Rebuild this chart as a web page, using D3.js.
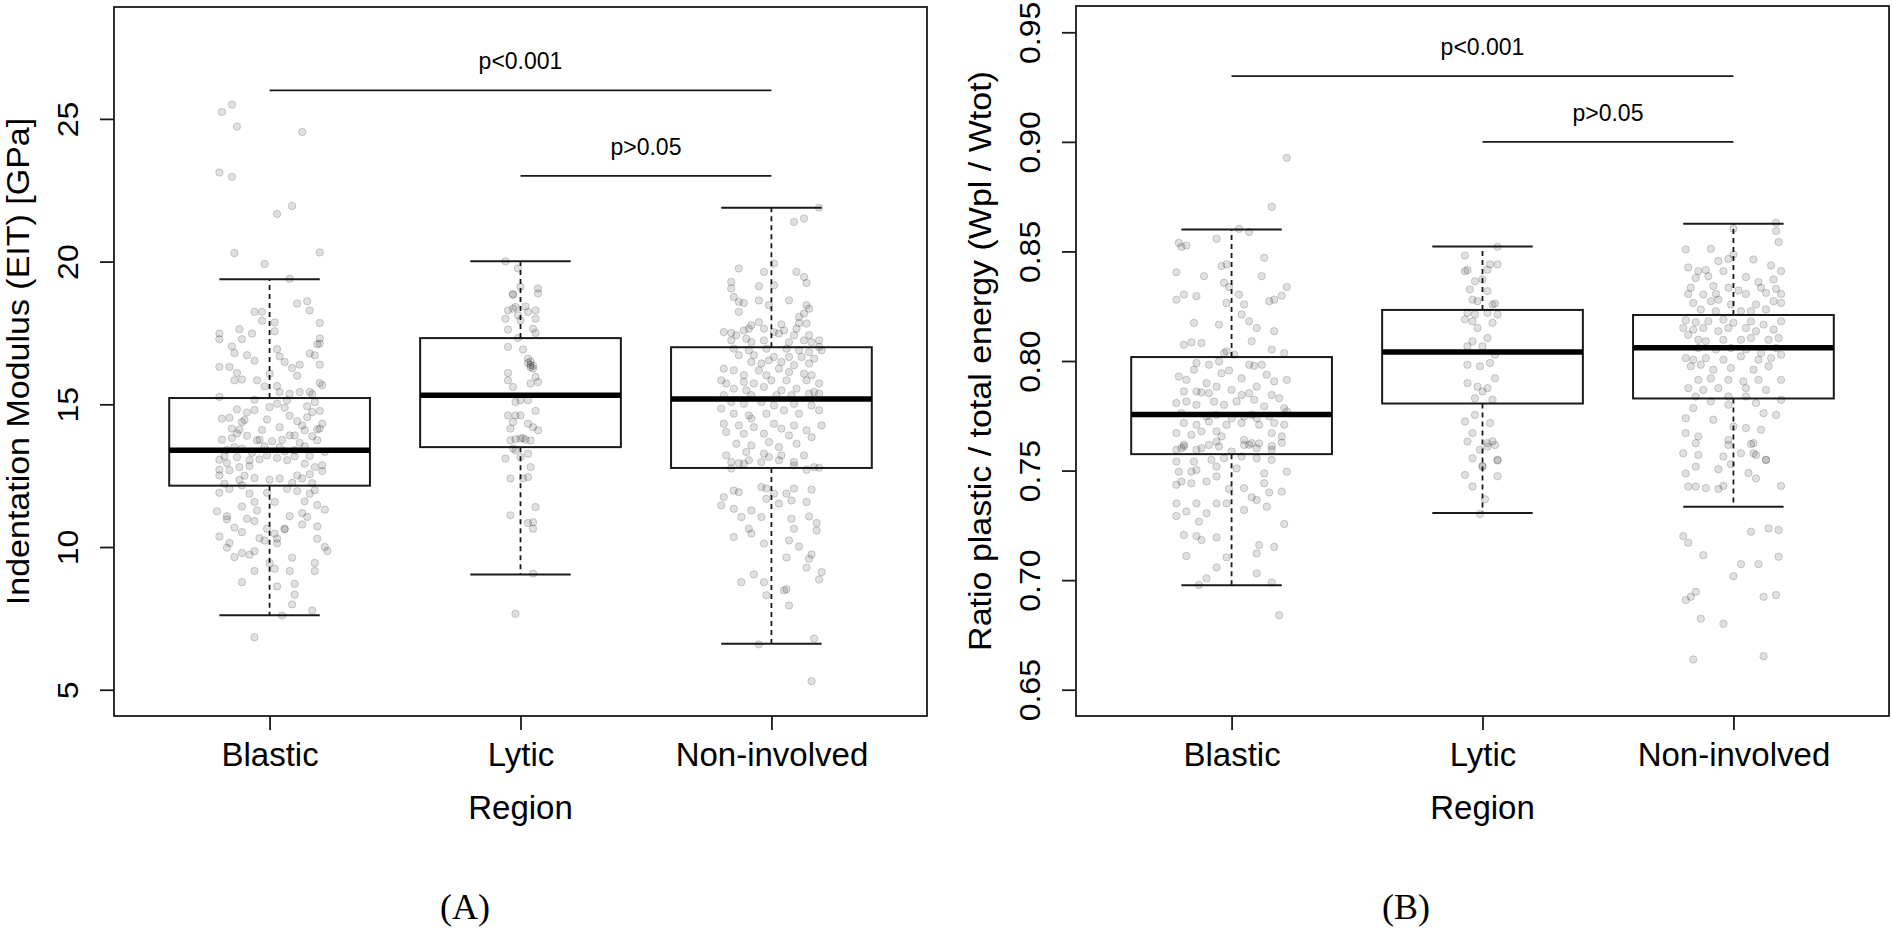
<!DOCTYPE html>
<html>
<head>
<meta charset="utf-8">
<script src="https://cdn.jsdelivr.net/npm/d3@7"></script>
<style>
  body { margin: 0; background: #fff; }
  svg { display: block; font-family: "Liberation Sans", Arial, Helvetica, sans-serif; }
</style>
</head>
<body>
<script>
var regions = ['Blastic', 'Lytic', 'Non-involved'];

// (A) indentation modulus, points are [jitter, value]
var eitBlastic = [
  [-.19,25.24],[-.15,25.5],[-.13,24.73],[.13,24.54],[-.2,23.12],[-.15,22.97],[.03,21.67],[.09,21.95],[-.14,20.3],[.2,20.32],[-.02,19.92],[.08,19.4],
  [.11,18.53],[.15,18.61],[.16,18.29],[-.06,18.24],[-.03,18.24],[-.03,17.93],[.02,17.87],[.02,17.56],[-.2,17.48],[-.2,17.28],[-.12,17.63],[-.11,17.28],
  [-.07,17.48],[-.15,17.03],[-.14,16.8],[-.09,16.72],[-.06,16.53],[.03,16.93],[.04,16.68],[.06,16.48],[.09,16.27],[.12,16.39],[.16,16.78],[.18,16.72],
  [.19,17.1],[.2,17.13],[.2,17.31],[.2,17.85],[.2,16.39],[-.2,16.31],[-.16,16.31],[-.13,16.1],[-.14,15.84],[-.11,15.87],[-.05,15.84],[-.02,15.63],
  [0,16.07],[.03,15.64],[.04,15.43],[.11,16.0],[.21,15.67],[.2,15.75],[-.2,15.26],[-.06,15.16],[.08,15.37],[.12,15.43],[.16,15.43],[.17,15.35],
  [.18,15.08],[.07,15.14],[.03,15.02],[.06,14.88],[.15,14.93],[.17,14.73],[.2,14.77],[-.13,14.82],[-.09,14.71],[-.06,14.8],[-.19,14.5],[-.16,14.53],
  [-.11,14.38],[-.1,14.45],[-.01,14.47],[.04,14.2],[.11,14.41],[.13,14.26],[.15,14.55],[.21,14.32],[.2,14.15],[.19,14.12],[-.19,13.76],[-.15,13.82],
  [-.12,14.11],[-.13,13.98],[-.05,13.74],[-.04,13.76],[.01,13.71],[.05,13.76],[.08,13.91],[.1,13.91],[.14,14.09],[.17,13.88],[.19,13.74],[.14,13.53],
  [.1,13.39],[.04,13.5],[-.02,13.53],[-.11,13.45],[-.14,13.5],[-.18,13.18],[-.2,13.06],[-.2,12.71],[-.2,12.51],[-.17,12.94],[-.16,12.69],[-.13,13.15],
  [-.12,12.8],[-.08,12.84],[-.08,13.04],[-.04,13.07],[-.01,13.21],[.03,13.12],[.07,13.04],[.1,13.18],[.14,12.92],[.16,13.19],[.18,12.8],[.21,12.66],
  [.21,12.86],[.22,13.33],[-.1,12.5],[-.06,12.42],[0,12.36],[.04,12.4],[.11,12.51],[.13,12.4],[-.18,12.22],[-.11,12.16],[.17,12.24],[-.07,13.3],
  [.06,13.35],[-.03,14.1],[.08,14.6],[-.15,14.15],[.12,13.65],[-.09,13.9],[0,14.9],[-.17,13.4],[.16,12.55],[-.12,12.35],[.09,12.25],
  [.18,11.99],[-.2,11.9],[-.16,12.04],[-.08,11.87],[-.06,11.58],[-.01,11.9],[.02,11.58],[.07,12.04],[.11,11.96],[.14,11.6],[.16,11.87],[.19,11.47],
  [-.11,11.42],[-.21,11.25],[-.17,11.08],[-.17,10.97],[-.05,11.28],[.08,11.08],[.13,11.19],[.15,11.05],[.22,11.31],[.19,10.72],[-.14,10.68],[-.11,10.52],
  [-.09,10.99],[-.06,10.91],[-.01,10.64],[.06,10.64],[.13,10.79],[-.2,10.37],[-.16,10.14],[-.17,9.98],[-.11,9.79],[-.08,9.73],[-.06,9.85],[-.04,10.31],
  [-.02,10.23],[.02,10.47],[.03,10.29],[.06,10.62],[0,9.44],[.02,9.24],[.08,9.16],[.09,9.63],[.18,9.44],[.18,9.16],[.19,10.29],[.22,10.0],
  [.23,9.86],[-.06,9.16],[-.11,8.77],[.03,8.62],[.1,8.71],[.1,8.33],[.09,7.99],[.17,7.78],[.05,7.6],[-.06,6.84],[-.14,9.65],[.03,10.13]
];
var eitLytic = [
  [-.06,20.01],[-.01,19.76],[.07,19.06],[.07,18.88],[0,19.11],[-.03,18.86],[-.03,18.84],[-.06,18.0],[-.05,18.29],[-.03,18.35],[-.02,18.41],[.02,18.43],
  [.03,18.24],[.06,18.29],[.06,18.0],[.05,17.65],[.06,17.5],[-.05,17.62],[-.01,18.12],[0,17.94],[-.01,17.32],[-.05,17.01],[.01,16.92],[.03,16.6],
  [.03,16.45],[.04,16.38],[.04,16.3],[.05,16.25],[.04,16.5],[.05,16.35],[.06,15.96],[.07,15.78],[.04,15.73],[-.05,16.1],[-.05,15.84],[-.03,15.61],
  [-.02,15.08],[0,15.14],[.03,15.14],[.06,14.77],[-.05,14.61],[-.02,14.61],[0,14.61],[-.03,14.38],[-.04,14.15],[.03,14.32],[.05,14.2],[.07,14.09],
  [-.04,13.74],[-.02,13.78],[0,13.8],[.01,13.82],[.02,13.76],[.04,13.73],[-.03,13.45],[-.02,13.39],[-.06,13.1],[0,13.15],[.03,13.27],[.04,12.8],
  [-.04,12.4],[.01,12.4],[.03,12.45],[.06,11.4],[-.04,11.11],[.03,10.84],[.05,10.87],[.05,10.64],[.05,9.07],[-.02,7.66]
];
var eitNonInvolved = [
  [.19,21.89],[.13,21.51],[.09,21.39],[.01,19.93],[-.13,19.76],[-.03,19.64],[.1,19.64],[.13,19.46],[.14,19.25],[-.16,19.29],[-.16,19.06],[-.05,19.14],
  [.01,19.17],[-.15,18.76],[-.13,18.59],[-.11,18.55],[-.05,18.64],[-.01,18.47],[.07,18.64],[.14,18.47],[.15,18.35],[-.13,18.24],[.13,18.18],[.11,18.06],
  [-.08,17.77],[-.05,17.88],[.04,17.8],[.11,17.85],[.14,17.83],[-.11,17.59],[-.09,17.65],[-.03,17.65],[.05,17.59],[.1,17.65],[-.19,17.53],[-.16,17.5],
  [-.14,17.42],[.01,17.53],[.03,17.48],[.09,17.42],[.15,17.42],[.19,17.24],[-.16,17.24],[-.1,17.3],[-.08,17.18],[-.03,17.24],[.07,17.18],[.13,17.24],
  [.16,17.18],[.19,17.01],[-.15,16.95],[-.09,16.89],[-.02,16.95],[.06,16.95],[.11,16.89],[.15,16.83],[.2,16.89],[-.13,16.72],[-.07,16.72],[-.01,16.54],
  [.01,16.66],[.07,16.66],[.12,16.66],[.17,16.6],[-.08,16.48],[-.04,16.43],[.04,16.48],[.09,16.37],[.15,16.43],[-.19,16.25],[-.15,16.19],[-.05,16.19],
  [.03,16.25],[.07,16.13],[.13,16.07],[.16,16.02],[-.11,16.02],[-.02,16.02],[-.2,15.84],[-.18,15.73],[-.11,15.78],[-.07,15.73],[0,15.84],[.06,15.84],
  [.14,15.84],[.19,15.73],[-.15,15.55],[-.1,15.49],[-.03,15.61],[.04,15.49],[.1,15.55],[.17,15.43],[-.19,15.32],[-.08,15.32],[.02,15.32],[.08,15.32],
  [.15,15.37],[.19,15.37],[-.16,15.08],[-.11,15.02],[-.04,15.08],[.01,14.96],[.09,15.02],[.16,14.96],[-.2,14.85],[-.15,14.67],[-.09,14.61],[-.08,14.5],
  [-.02,14.67],[.05,14.79],[.11,14.67],[.19,14.79],[-.19,14.32],[-.13,14.26],[-.07,14.2],[.01,14.32],[.04,14.15],[.09,14.26],[.14,14.09],[.2,14.26],
  [-.18,14.03],[-.11,13.97],[-.03,13.97],[.07,13.91],[.16,13.85],[-.14,13.62],[-.08,13.56],[-.01,13.68],[.03,13.5],[.1,13.62],[.13,13.21],[-.18,13.21],
  [-.1,13.33],[-.03,13.27],[.04,13.21],[-.16,12.98],[-.11,12.92],[-.04,12.98],[.03,13.04],[.09,12.86],[.17,12.8],
  [-.16,12.75],[-.13,12.94],[-.09,13.04],[-.01,13.15],[.09,12.98],[.14,12.71],[.19,12.78],[-.19,11.75],[-.15,11.98],[-.13,11.92],[-.04,12.1],[-.02,12.05],
  [.01,11.87],[.06,11.87],[.09,12.05],[.16,12.01],[.14,11.58],[-.2,11.46],[-.15,11.34],[-.08,11.28],[-.02,11.69],[.03,11.52],[.08,11.63],[-.12,11.05],
  [-.04,11.05],[.08,10.99],[.15,11.07],[.18,10.84],[.09,10.64],[-.09,10.64],[-.08,10.47],[-.15,10.35],[.18,10.58],[-.03,10.12],[.07,10.23],[.11,10.02],
  [.06,9.63],[.16,9.74],[.15,9.59],[.14,9.28],[.2,9.12],[.19,8.86],[-.07,9.04],[-.12,8.77],[-.03,8.77],[-.02,8.31],[.05,8.48],[.06,8.52],
  [.07,7.95],[.17,6.79],[-.05,6.59],[.16,5.3]
];
var eitStats = [[7.61, 12.15, 13.39, 15.22, 19.38], [9.04, 13.5, 15.32, 17.32, 20.01], [6.61, 12.77, 15.19, 17.0, 21.89]];
var eitTicks = [5, 10, 15, 20, 25];
var eitLimits = [5, 28];
var eitTests = [{ from: 0, to: 2, y: 26.0, label: 'p<0.001' }, { from: 1, to: 2, y: 23.0, label: 'p>0.05' }];

// (B) ratio plastic / total energy, points are [jitter, value]
var ratioBlastic = [
  [.22,.8927],[.16,.8704],[.07,.8589],[.03,.8603],[-.21,.8539],[-.18,.8527],[-.06,.8558],[-.2,.8521],[.13,.8471],[-.02,.8441],[-.04,.8433],[-.22,.8405],
  [-.11,.8387],[-.03,.8357],[-.01,.8338],[.12,.8387],[.03,.8303],[.22,.8338],[-.22,.828],[-.19,.8303],[-.14,.8296],[.17,.828],[.2,.8298],[.15,.8273],
  [.05,.8258],[-.02,.8265],[.04,.8212],[.07,.8181],[-.15,.8174],[-.05,.8166],[.1,.8151],[.17,.8136],[.08,.809],[-.19,.8074],[-.16,.8085],[-.12,.8082],
  [-.02,.8044],[-.03,.8036],[.16,.8052],[.21,.8036],[.01,.8029],
  [-.14,.7991],[-.09,.7983],[-.05,.7998],[.07,.7983],[.09,.7978],[.12,.7983],[-.21,.7929],[-.18,.7914],[-.15,.796],[-.04,.7944],[-.01,.7957],[.04,.7921],
  [.14,.7937],[.17,.7907],[.22,.7914],[-.1,.7899],[-.06,.7883],[.1,.7883],[-.19,.7861],[-.14,.7861],[-.12,.7856],[-.09,.7853],[0,.7868],[.04,.7845],
  [.07,.7853],[.16,.7845],[.19,.783],[-.22,.7808],[-.18,.7815],[-.14,.78],[-.07,.7815],[-.03,.78],[.02,.7815],[.09,.7823],[.13,.7793],[.21,.7785],
  [.22,.777],[-.2,.7762],[-.1,.7747],[-.06,.7754],[0,.7739],[.05,.7747],[.08,.7754],[.1,.7739],[.15,.7747],[-.19,.7717],[-.14,.7709],[-.09,.7724],
  [-.02,.7709],[.04,.7717],[.11,.7709],[.17,.7717],[.21,.7709],[-.22,.7671],[-.16,.7663],[-.12,.7679],[-.06,.7679],[-.04,.7656],[.05,.764],[.07,.7618],
  [.08,.7625],[.16,.7671],[.2,.7656],[-.19,.7618],[-.12,.7602],[-.05,.761],[0,.7587],[.1,.7602],[.16,.7595],[-.22,.7595],
  [-.2,.7602],[-.19,.761],[-.14,.7594],[-.09,.7617],[-.06,.7632],[.05,.7617],[.11,.7624],[.16,.7612],[.2,.7627],[-.22,.7541],[-.15,.7541],[-.08,.7549],
  [-.03,.7556],[.04,.7564],[.1,.7556],[.16,.7549],[-.21,.7495],[-.16,.7495],[-.14,.7503],[-.06,.7518],[.02,.751],[.13,.7487],[.22,.7495],[-.2,.745],
  [-.16,.7442],[-.1,.745],[-.06,.7473],[-.01,.7416],[.05,.742],[.13,.7442],[.2,.7404],[.15,.74],[-.22,.7435],[.08,.7378],[.1,.7366],[-.22,.735],
  [-.14,.735],[-.06,.735],[-.02,.735],[.14,.7335],[.05,.732],[-.18,.7313],[-.1,.7305],[-.22,.7293],[-.13,.7267],[.21,.7256],[-.19,.7206],[-.14,.7201],
  [-.12,.7183],[-.06,.7195],[.11,.716],[.17,.7152],[.1,.7122],[-.18,.711],[-.02,.7104],[-.06,.7058],[.1,.7031],[-.1,.7008],[-.13,.6978],[.16,.6989],
  [.19,.684]
];
var ratioLytic = [
  [.06,.8521],[-.07,.8481],[.03,.8441],[.06,.8441],[.02,.8417],[-.07,.841],[-.06,.8415],[-.03,.8364],[0,.8372],[-.05,.8327],[.02,.8319],[-.04,.828],
  [-.02,.8273],[.04,.8258],[.05,.8262],[-.06,.822],[-.03,.8212],[.02,.822],[.06,.8212],[-.07,.819],[-.04,.8181],[-.02,.8151],[.04,.8174],[-.04,.809],
  [.02,.8105],[0,.8067],[.05,.8029],[-.06,.8067],[-.06,.7983],[.03,.7991],[-.01,.7976],[.05,.7921],[-.06,.7899],[-.02,.7883],[.02,.7876],[0,.7861],
  [-.03,.783],[.04,.7823],[-.07,.7724],[-.03,.7754],[.03,.7717],[-.04,.7671],[.04,.7633],[.02,.7625],[-.06,.7633],[-.01,.7595],[.06,.7549],[0,.7518],
  [.05,.7617],[.02,.761],[-.04,.7556],[.06,.7546],[0,.7521],[-.07,.748],[.06,.7474],[-.04,.7427],[.01,.7369],[-.01,.7302]
];
var ratioNonInvolved = [
  [.17,.8631],[0,.8604],[.17,.8593],[.18,.8543],[-.19,.8509],[-.09,.8512],[0,.8486],[-.02,.8466],[-.06,.8456],[.08,.8463],[.15,.8436],[-.18,.8427],
  [-.14,.841],[-.11,.8415],[-.04,.841],[.19,.841],[-.15,.8379],[-.1,.8387],[.05,.8383],[.1,.836],[.16,.8372],[-.17,.8334],[-.08,.8342],[-.02,.8334],
  [.02,.8322],[.11,.8334],[.17,.8329],[-.18,.8306],[-.12,.8303],[-.07,.8306],[.05,.8306],[.13,.8311],[.19,.8306],[-.16,.8265],[-.09,.8273],[-.06,.828],
  [-.01,.8258],[.09,.8258],[.16,.8273],[.19,.8265],[-.13,.8235],[-.07,.8227],[.03,.8227],[.07,.8227],[.13,.8235],[-.19,.8186],[-.15,.8177],[-.1,.8181],
  [-.04,.8189],[0,.8174],[.07,.8181],[.12,.8166],[.19,.8181],[-.2,.8151],[-.16,.8143],[-.12,.8151],[-.06,.8136],[-.02,.8151],[.05,.8151],[.09,.8136],
  [.16,.8143],[-.18,.812],[-.14,.8097],[-.11,.809],[-.04,.8097],[.03,.8097],[.07,.8105],[.14,.8097],[.18,.8105],[-.14,.8059],[-.07,.8052],[-.01,.8059],
  [.05,.8052],[.11,.8036],[.17,.8059],[-.19,.8013],[-.16,.8006],[-.11,.8013],[-.04,.8006],[.03,.8021],[.1,.8006],[.15,.8013],[.19,.8029],[-.17,.7976],
  [-.13,.7983],[-.08,.796],[-.01,.7968],[.08,.796],[.14,.7976],[-.14,.7914],[-.09,.7921],[-.02,.7914],[.04,.7907],[.1,.7914],[.19,.7914],[-.18,.7876],
  [-.12,.7868],[-.06,.7876],[.05,.7876],[.13,.7868],[-.15,.7838],[-.02,.7838],[.05,.7838],
  [-.16,.7785],[-.09,.7815],[-.02,.78],[.09,.7808],[.12,.7762],[.19,.7823],[-.19,.7739],[-.08,.7732],[0,.7701],[.05,.7694],[.17,.7754],[-.19,.7671],
  [-.14,.7656],[-.02,.764],[.11,.7686],[.08,.7625],[-.2,.7579],[-.14,.7571],[-.04,.7564],[.03,.7579],[.09,.7571],[.13,.7549],[-.15,.7625],[-.02,.7617],
  [.07,.7621],[.08,.7579],[.13,.7549],[-.15,.7518],[-.06,.7506],[-.01,.7529],[-.19,.7487],[.06,.7489],[.09,.7464],[-.18,.7427],[-.15,.7427],[-.11,.742],
  [-.06,.7416],[-.04,.743],[.19,.743],[.07,.7221],[.14,.7236],[.18,.7229],[-.2,.7201],[-.18,.7171],[-.12,.7114],[.18,.7107],[.03,.7073],[.1,.7073],
  [0,.7018],[-.15,.6947],[-.19,.6909],[-.17,.6924],[.12,.6924],[.17,.6932],[-.13,.6824],[-.04,.6801],[-.16,.6638],[.12,.6653]
];
var ratioStats = [[0.6977, 0.7575, 0.7756, 0.8018, 0.860], [0.7306, 0.7806, 0.8041, 0.8233, 0.8523], [0.7335, 0.7829, 0.806, 0.821, 0.8626]];
var ratioTicks = [0.65, 0.70, 0.75, 0.80, 0.85, 0.90, 0.95];
var ratioLimits = [0.65, 0.95];
var ratioTests = [{ from: 0, to: 2, y: 0.930, label: 'p<0.001' }, { from: 1, to: 2, y: 0.900, label: 'p>0.05' }];

var width = 1892;
var height = 932;
var ink = '#1a1a1a';

var svg = d3.select('body').append('svg')
  .attr('width', width)
  .attr('height', height);

// R style limits: 4% padding on each side
function padded(lim) {
  var pad = (lim[1] - lim[0]) * 0.04;
  return [lim[0] - pad, lim[1] + pad];
}

function drawPanel(opts) {
  var g = svg.append('g');
  var x = d3.scaleLinear().domain(padded([0.5, 3.5])).range([opts.left, opts.right]);
  var y = d3.scaleLinear().domain(padded(opts.limits)).range([opts.bottom, opts.top]);

  // boxes
  var boxes = g.append('g');
  opts.stats.forEach(function(s, i) {
    var c = i + 1;
    boxes.append('line')
      .attr('x1', x(c)).attr('x2', x(c))
      .attr('y1', y(s[3])).attr('y2', y(s[4]))
      .attr('stroke', ink).attr('stroke-width', 1.8).attr('stroke-dasharray', '5,4');
    boxes.append('line')
      .attr('x1', x(c)).attr('x2', x(c))
      .attr('y1', y(s[1])).attr('y2', y(s[0]))
      .attr('stroke', ink).attr('stroke-width', 1.8).attr('stroke-dasharray', '5,4');
    [s[0], s[4]].forEach(function(v) {
      boxes.append('line')
        .attr('x1', x(c - 0.2)).attr('x2', x(c + 0.2))
        .attr('y1', y(v)).attr('y2', y(v))
        .attr('stroke', ink).attr('stroke-width', 2);
    });
    boxes.append('rect')
      .attr('x', x(c - 0.4)).attr('y', y(s[3]))
      .attr('width', x(c + 0.4) - x(c - 0.4))
      .attr('height', y(s[1]) - y(s[3]))
      .attr('fill', 'none').attr('stroke', ink).attr('stroke-width', 2);
    boxes.append('line')
      .attr('x1', x(c - 0.4)).attr('x2', x(c + 0.4))
      .attr('y1', y(s[2])).attr('y2', y(s[2]))
      .attr('stroke', '#000').attr('stroke-width', 5.5);
  });

  // jittered points
  opts.groups.forEach(function(pts, i) {
    g.append('g').selectAll('circle').data(pts).enter().append('circle')
      .attr('cx', function(d) { return x(i + 1 + d[0]); })
      .attr('cy', function(d) { return y(d[1]); })
      .attr('r', 3.7)
      .attr('fill', '#000').attr('fill-opacity', 0.12)
      .attr('stroke', '#000').attr('stroke-opacity', 0.17).attr('stroke-width', 1);
  });

  // significance bars
  opts.tests.forEach(function(t) {
    g.append('line')
      .attr('x1', x(t.from + 1)).attr('x2', x(t.to + 1))
      .attr('y1', y(t.y)).attr('y2', y(t.y))
      .attr('stroke', ink).attr('stroke-width', 1.8);
    g.append('text')
      .attr('x', (x(t.from + 1) + x(t.to + 1)) / 2)
      .attr('y', y(t.y) - 21)
      .attr('text-anchor', 'middle')
      .attr('font-size', 23)
      .attr('fill', '#000')
      .text(t.label);
  });

  // frame
  g.append('rect')
    .attr('x', opts.left).attr('y', opts.top)
    .attr('width', opts.right - opts.left).attr('height', opts.bottom - opts.top)
    .attr('fill', 'none').attr('stroke', ink).attr('stroke-width', 1.8);

  // y axis, labels rotated like R's default las = 0
  var yAxis = g.append('g')
    .attr('transform', 'translate(' + opts.left + ',0)')
    .call(d3.axisLeft(y).tickValues(opts.ticks).tickSize(14).tickFormat(opts.format));
  yAxis.select('.domain').remove();
  yAxis.selectAll('line').attr('stroke', ink).attr('stroke-width', 1.8);
  yAxis.selectAll('text')
    .attr('x', null).attr('dy', null)
    .attr('text-anchor', 'middle')
    .attr('font-size', 32)
    .attr('fill', '#000')
    .attr('transform', 'translate(-36,0) rotate(-90) scale(1,0.94)');

  var xAxis = g.append('g')
    .attr('transform', 'translate(0,' + opts.bottom + ')')
    .call(d3.axisBottom(x).tickValues([1, 2, 3]).tickSize(14)
      .tickFormat(function(d) { return regions[d - 1]; }));
  xAxis.select('.domain').remove();
  xAxis.selectAll('line').attr('stroke', ink).attr('stroke-width', 1.8);
  xAxis.selectAll('text')
    .attr('y', 50).attr('dy', null)
    .attr('font-size', 33)
    .attr('fill', '#000');

  // axis titles
  var midY = (opts.top + opts.bottom) / 2;
  g.append('text')
    .attr('transform', 'translate(' + (opts.left - 85) + ',' + midY + ') rotate(-90) scale(1,0.9)')
    .attr('text-anchor', 'middle')
    .attr('font-size', 34)
    .attr('fill', '#000')
    .text(opts.yTitle);
  g.append('text')
    .attr('x', x(2)).attr('y', opts.bottom + 103)
    .attr('text-anchor', 'middle')
    .attr('font-size', 33)
    .attr('fill', '#000')
    .text('Region');

  // sub-figure caption
  g.append('text')
    .attr('x', opts.captionX).attr('y', 919)
    .attr('text-anchor', 'middle')
    .attr('font-family', '"Liberation Serif", "DejaVu Serif", serif')
    .attr('font-size', 36)
    .attr('fill', '#000')
    .text(opts.caption);
}

drawPanel({
  left: 114, right: 927, top: 7, bottom: 716,
  limits: eitLimits, ticks: eitTicks, format: d3.format('d'),
  stats: eitStats, groups: [eitBlastic, eitLytic, eitNonInvolved], tests: eitTests,
  yTitle: 'Indentation Modulus (EIT) [GPa]',
  caption: '(A)', captionX: 465
});

drawPanel({
  left: 1076, right: 1889, top: 6, bottom: 716,
  limits: ratioLimits, ticks: ratioTicks, format: d3.format('.2f'),
  stats: ratioStats, groups: [ratioBlastic, ratioLytic, ratioNonInvolved], tests: ratioTests,
  yTitle: 'Ratio plastic / total energy (Wpl / Wtot)',
  caption: '(B)', captionX: 1406
});
</script>
</body>
</html>
